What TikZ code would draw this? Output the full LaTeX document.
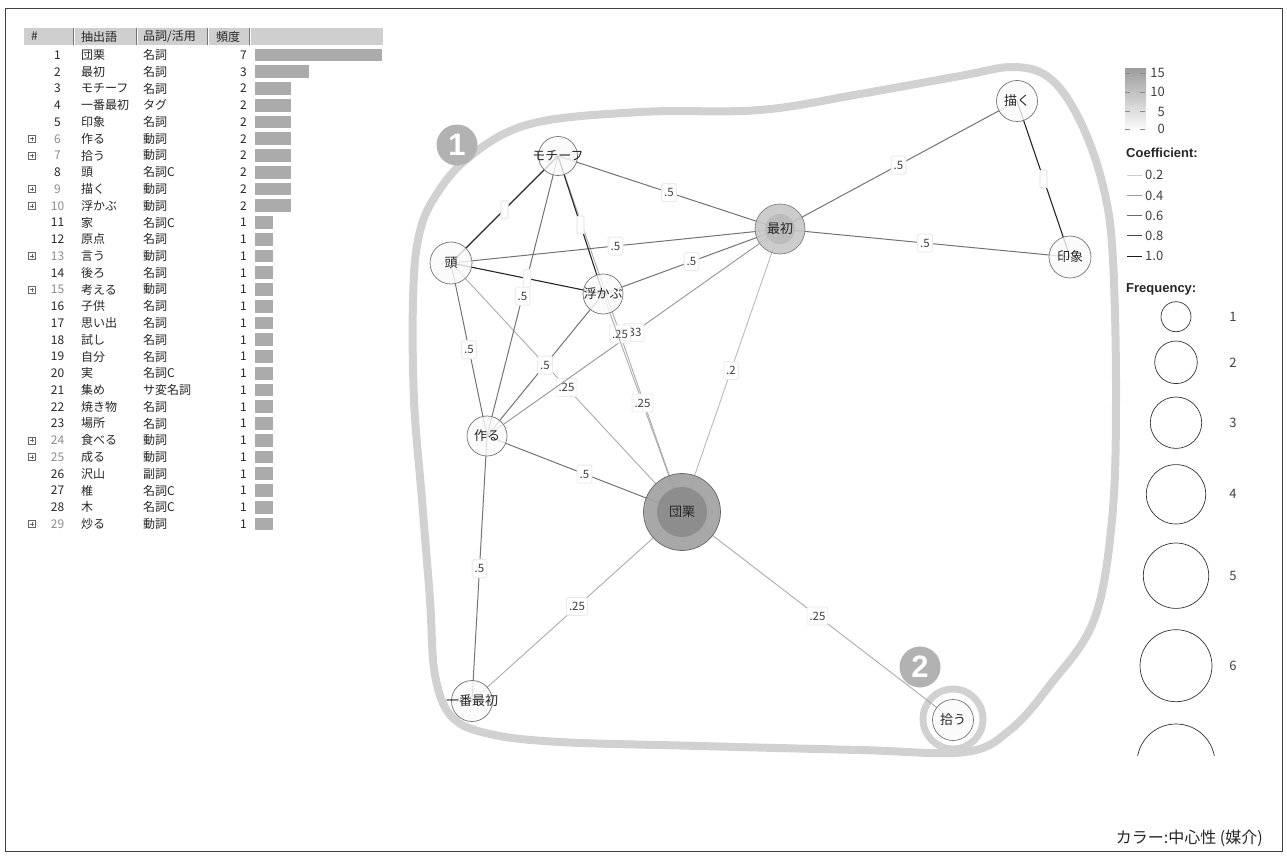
\documentclass[tikz,border=0pt]{standalone}
\usepackage{fontspec}
\setmainfont{Noto Sans CJK JP}
\newfontfamily\boldsans{Liberation Sans}
\usetikzlibrary{calc}
\colorlet{tabletext}{black!85}
\colorlet{headfill}{black!19}
\colorlet{barfill}{black!33}
\colorlet{hullgray}{black!18}
\pgfdeclarelayer{hull}
\pgfdeclarelayer{edges}
\pgfsetlayers{hull,edges,main}
\tikzset{
  cell/.style={anchor=west, inner sep=0pt, text=tabletext, font=\fontsize{12}{12}\selectfont},
  word/.style={circle, draw=black!55, line width=0.7pt, fill=black!2, fill opacity=0.8, inner sep=0pt, minimum size=#1},
  word/.default=40pt,
  wordtext/.style={text=black!85, text opacity=1, inner sep=0pt, font=\fontsize{13}{13}\selectfont},
  e10/.style={draw=black!85, line width=1.1pt},
  e5/.style={draw=black!55, line width=1pt},
  e33/.style={draw=black!42, line width=0.9pt},
  e25/.style={draw=black!33, line width=0.9pt},
  e2/.style={draw=black!27, line width=0.9pt},
  elabel/.style={midway, fill=white, draw=black!8, rounded corners=1.5pt, inner sep=2.5pt, minimum width=7pt, minimum height=18pt, text=black!75, font=\fontsize{11.5}{11.5}\selectfont},
  badge/.style={circle, fill=black!30, minimum size=41pt, inner sep=0pt, text=white, font=\boldsans\bfseries\fontsize{31}{31}\selectfont},
  legendtext/.style={anchor=west, inner sep=0pt, text=black!75, font=\fontsize{13}{13}\selectfont},
  legendhead/.style={anchor=west, inner sep=0pt, text=black!85, font=\boldsans\bfseries\fontsize{13}{13}\selectfont}
}

\begin{document}
\begin{tikzpicture}[x=1pt, y=-1pt]
        \useasboundingbox (0,0) rectangle (1287,856);
        % frame
        \draw[black!75, line width=0.8pt] (5,8) rectangle (1282,851);

        % table header
        \foreach \a/\b in {24/73, 75/136, 138/207, 209/249}
        {
            \fill[headfill] (\a,28) rectangle (\b,45);
            \draw[black!55, line width=0.5pt] (\b,28) -- (\b,45);
        }
        \fill[headfill] (251,28) rectangle (383,45);
        \node[cell] at (31,36.5) {\#};
        \node[cell] at (81,36.5) {抽出語};
        \node[cell] at (143,36.5) {品詞/活用};
        \node[cell] at (216,36.5) {頻度};

        % table rows
        \foreach \n/\w/\p/\f/\x in {1/団栗/名詞/7/0, 2/最初/名詞/3/0, 3/モチーフ/名詞/2/0,
            4/一番最初/タグ/2/0, 5/印象/名詞/2/0, 6/作る/動詞/2/1, 7/拾う/動詞/2/1,
            8/頭/名詞C/2/0, 9/描く/動詞/2/1, 10/浮かぶ/動詞/2/1, 11/家/名詞C/1/0,
            12/原点/名詞/1/0, 13/言う/動詞/1/1, 14/後ろ/名詞/1/0, 15/考える/動詞/1/1,
            16/子供/名詞/1/0, 17/思い出/名詞/1/0, 18/試し/名詞/1/0, 19/自分/名詞/1/0,
            20/実/名詞C/1/0, 21/集め/サ変名詞/1/0, 22/焼き物/名詞/1/0, 23/場所/名詞/1/0,
            24/食べる/動詞/1/1, 25/成る/動詞/1/1, 26/沢山/副詞/1/0, 27/椎/名詞C/1/0,
            28/木/名詞C/1/0, 29/炒る/動詞/1/1}
        {
            \pgfmathsetmacro{\ry}{55+(\n-1)*16.75}
            \ifnum\x=1
                \draw[black!60, line width=0.5pt] (28.5,\ry-3.5) rectangle (35.5,\ry+3.5);
                \draw[black!60, line width=0.5pt] (30,\ry) -- (34,\ry) (32,\ry-2) -- (32,\ry+2);
                \node[cell, anchor=center, text=black!45] at (57.5,\ry) {\n};
            \else
                \node[cell, anchor=center] at (57.5,\ry) {\n};
            \fi
            \node[cell] at (81,\ry) {\w};
            \node[cell] at (143,\ry) {\p};
            \node[cell, anchor=east] at (247,\ry) {\f};
            \fill[barfill] (255,\ry-6.3) rectangle (255+18.1*\f,\ry+6.3);
        }

        % hull and badges
        \begin{pgfonlayer}{hull}
            \draw[hullgray, line width=8pt] plot[smooth cycle, tension=0.6] coordinates {
                (418,240) (433,200) (468,158) (530,124) (640,112) (760,110) (860,94)
                (960,76) (1015,67) (1052,80) (1082,125) (1104,190) (1113,260) (1116,400)
                (1112,520) (1094,620) (1050,685) (1010,730) (965,752) (860,750) (700,746)
                (560,742) (490,734) (452,717) (435,675) (430,600) (422,500) (414,400)
                (413,300)};
            \draw[hullgray, line width=7pt] (953,719) circle (30pt);
        \end{pgfonlayer}
        \node[badge] (one) at (457,145) {1};
        \node[badge] (two) at (920,667) {2};

        % words
        \node[word=39pt, label={[wordtext]center:モチーフ}] (mochi) at (558,156) {};
        \node[word=42pt, label={[wordtext]center:頭}] (atama) at (451,263) {};
        \node[word, label={[wordtext]center:浮かぶ}] (ukabu) at (603,294) {};
        \node[word, label={[wordtext]center:作る}] (tsukuru) at (487,436) {};
        \node[word=41pt, label={[wordtext]center:描く}] (kaku) at (1017,101) {};
        \node[word=42pt, label={[wordtext]center:印象}] (insho) at (1070,257) {};
        \node[word=41pt, label={[wordtext]center:一番最初}] (ichiban) at (472,701) {};
        \node[word=41pt, label={[wordtext]center:拾う}] (hirou) at (953,720) {};
        \node[word=50pt, draw=black!50, fill=black!22, fill opacity=0.9,
            path picture={\fill[black!27] (path picture bounding box.center) circle (15pt);},
            label={[wordtext]center:最初}] (saisho) at (780,229) {};
        \node[word=77pt, draw=black!60, fill=black!36, fill opacity=0.95,
            path picture={\fill[black!45] (path picture bounding box.center) circle (25pt);},
            label={[wordtext]center:団栗}] (donguri) at (682,512) {};

        % co-occurrence edges
        \begin{pgfonlayer}{edges}
            \foreach \a/\b/\c/\v in {saisho/donguri/e2/.2, atama/donguri/e25/.25,
                donguri/ichiban/e25/.25, donguri/hirou/e25/.25, saisho/tsukuru/e33/.33,
                mochi/donguri/e25/.25, ukabu/donguri/e25/.25, mochi/saisho/e5/.5,
                mochi/tsukuru/e5/.5, atama/saisho/e5/.5, ukabu/saisho/e5/.5,
                atama/tsukuru/e5/.5, ukabu/tsukuru/e5/.5, tsukuru/donguri/e5/.5,
                tsukuru/ichiban/e5/.5, saisho/kaku/e5/.5, saisho/insho/e5/.5,
                mochi/atama/e10/, mochi/ukabu/e10/, atama/ukabu/e10/, kaku/insho/e10/}
            {
                \draw[\c] (\a.center) -- (\b.center) node[elabel] {\v};
            }
        \end{pgfonlayer}

        % legend: centrality
        \shade[top color=black!38, bottom color=white] (1125,69) rectangle (1146,132);
        \foreach \ty/\tl in {73/15, 92.3/10, 111.7/5, 129.3/0}
        {
            \draw[black!45, line width=0.5pt] (1125,\ty) -- (1130,\ty) (1140,\ty) -- (1145,\ty);
            \node[legendtext, anchor=east] at (1165,\ty) {\tl};
        }
        % legend: coefficient
        \node[legendhead] at (1126,153) {Coefficient:};
        \foreach \cy/\cv/\cc in {175/0.2/20, 195.7/0.4/40, 215.7/0.6/58, 235.7/0.8/72, 256/1.0/90}
        {
            \draw[black!\cc, line width=0.9pt] (1127,\cy) -- (1142,\cy);
            \node[legendtext] at (1145,\cy) {\cv};
        }
        % legend: frequency
        \node[legendhead] at (1126,289) {Frequency:};
        \foreach \fy/\fr/\fl in {316.7/15/1, 362.3/21.3/2, 422.7/25.7/3, 494.3/29.7/4, 575.7/32.7/5, 665.7/36/6}
        {
            \draw[black!80, line width=0.7pt] (1176,\fy) circle (\fr pt);
            \node[legendtext, anchor=center] at (1233,\fy) {\fl};
        }
        \begin{scope}
            \clip (1120,700) rectangle (1240,755);
            \draw[black!80, line width=0.7pt] (1176,763) circle (39pt);
        \end{scope}

        % caption
        \node[legendtext, anchor=east, text=black!85, font=\fontsize{16}{16}\selectfont] at (1263,838) {カラー:中心性 (媒介)};
\end{tikzpicture}
\end{document}
